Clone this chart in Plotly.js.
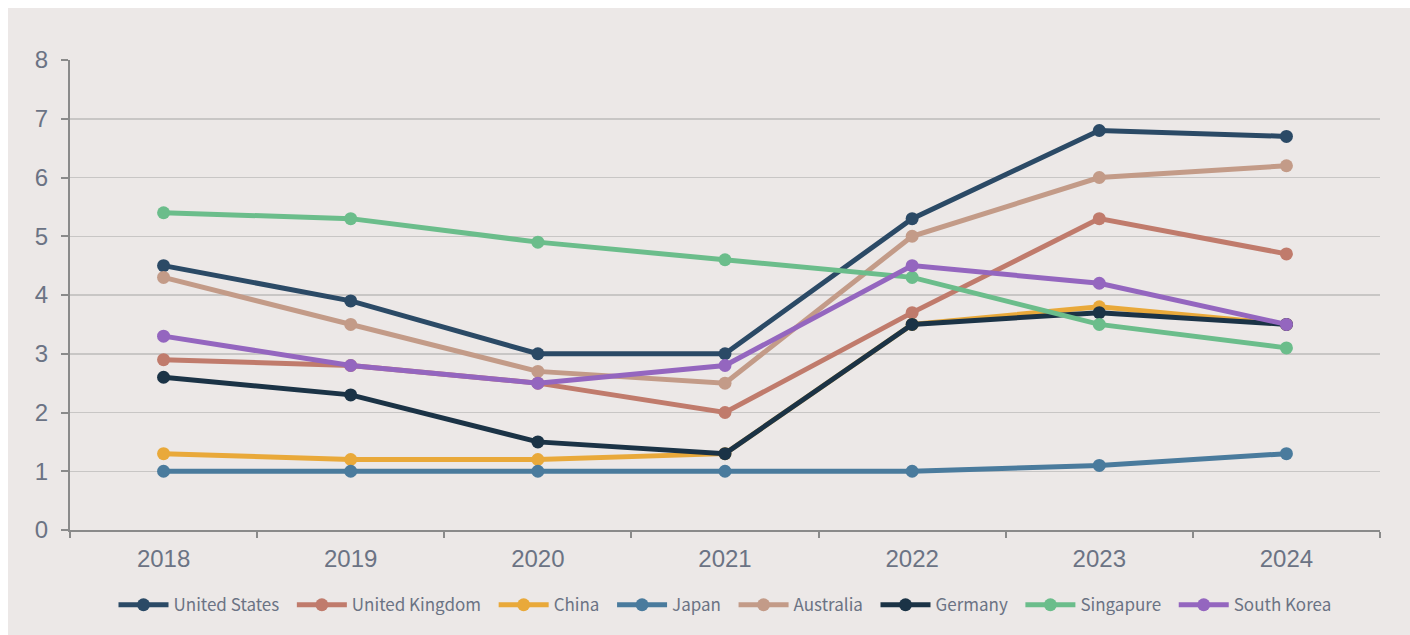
<!DOCTYPE html>
<html>
<head>
<meta charset="utf-8">
<script src="https://cdn.plot.ly/plotly-3.0.1.min.js"></script>
<style>
  html, body { margin: 0; padding: 0; background: #ffffff; }
  #chart { position: absolute; left: 8px; top: 8px; width: 1402px; height: 627px; }
</style>
</head>
<body>
<div id="chart"></div>
<script>
// Years on the category axis
const years = ['2018', '2019', '2020', '2021', '2022', '2023', '2024'];

// One series per country
const unitedStates  = [4.5, 3.9, 3.0, 3.0, 5.3, 6.8, 6.7];
const unitedKingdom = [2.9, 2.8, 2.5, 2.0, 3.7, 5.3, 4.7];
const china         = [1.3, 1.2, 1.2, 1.3, 3.5, 3.8, 3.5];
const japan         = [1.0, 1.0, 1.0, 1.0, 1.0, 1.1, 1.3];
const australia     = [4.3, 3.5, 2.7, 2.5, 5.0, 6.0, 6.2];
const germany       = [2.6, 2.3, 1.5, 1.3, 3.5, 3.7, 3.5];
const singapure     = [5.4, 5.3, 4.9, 4.6, 4.3, 3.5, 3.1];
const southKorea    = [3.3, 2.8, 2.5, 2.8, 4.5, 4.2, 3.5];

const seriesNames = ['United States', 'United Kingdom', 'China', 'Japan', 'Australia', 'Germany', 'Singapure', 'South Korea'];
const seriesValues = [unitedStates, unitedKingdom, china, japan, australia, germany, singapure, southKorea];
const seriesColors = ['#2b4a66', '#c07b6c', '#e9a93a', '#4a7b9d', '#c39b88', '#1b3346', '#6bbd8b', '#9466bf'];

// a little trailing room after each legend label except the last
const traces = seriesNames.map((name, i) => ({
  type: 'scatter',
  mode: 'lines+markers',
  name: i < seriesNames.length - 1 ? name + '\u00a0\u00a0' : name,
  x: years,
  y: seriesValues[i],
  line: { color: seriesColors[i], width: 5 },
  marker: { color: seriesColors[i], size: 13 }
}));

const tickFontColor = '#6b7384';

const layout = {
  width: 1402,
  height: 627,
  paper_bgcolor: '#ece8e7',
  plot_bgcolor: '#ece8e7',
  margin: { l: 62, r: 30, t: 52, b: 105 },
  showlegend: true,
  legend: {
    orientation: 'h',
    x: 0.5, xanchor: 'center',
    y: -0.16, yanchor: 'middle',
    font: { family: '"Noto Sans CJK JP", "Noto Sans", sans-serif', size: 17, color: tickFontColor },
    itemwidth: 50,
    bgcolor: 'rgba(0,0,0,0)'
  },
  xaxis: {
    type: 'category',
    range: [-0.5, 6.5],
    showgrid: false,
    showline: true,
    linecolor: '#8a8a8a',
    linewidth: 2,
    ticks: 'outside',
    tickson: 'boundaries',
    ticklen: 6,
    tickwidth: 2,
    tickcolor: '#8a8a8a',
    ticklabelstandoff: 6,
    tickfont: { family: '"Liberation Sans", Arial, sans-serif', size: 24, color: tickFontColor },
    zeroline: false,
    fixedrange: true
  },
  yaxis: {
    range: [0, 8],
    dtick: 1,
    showgrid: true,
    gridcolor: '#c8c6c5',
    gridwidth: 1.5,
    showline: true,
    linecolor: '#8a8a8a',
    linewidth: 2,
    ticks: 'outside',
    ticklen: 7,
    tickwidth: 2,
    tickcolor: '#8a8a8a',
    ticklabelstandoff: 8,
    tickfont: { family: '"Liberation Sans", Arial, sans-serif', size: 24, color: tickFontColor },
    zeroline: false,
    fixedrange: true
  }
};

Plotly.newPlot('chart', traces, layout, { displayModeBar: false, staticPlot: true });
</script>
</body>
</html>
